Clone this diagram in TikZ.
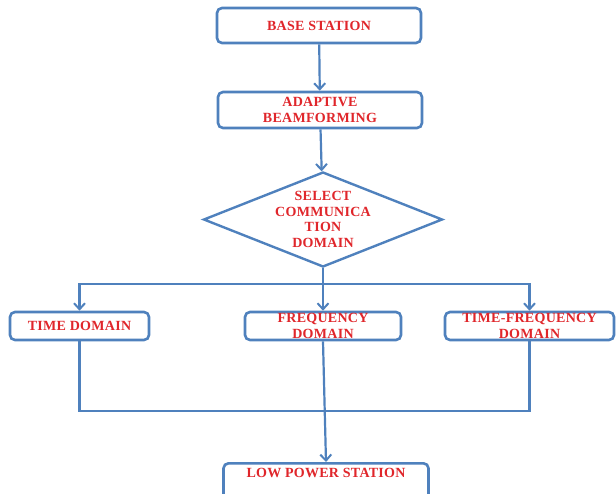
\documentclass[tikz,border=0pt]{standalone}
\usepackage{fontspec}
\setmainfont{Liberation Serif}[LetterSpace=2]
\usetikzlibrary{arrows.meta, positioning, shapes.geometric, calc}
\definecolor{CBlue}{HTML}{4F81BD}
\definecolor{CRed}{HTML}{E0262B}

\tikzset{
    stepbox/.style={draw=CBlue, line width=2.6pt, rounded corners=5pt, fill=white,
        align=center, text=CRed, inner sep=0pt,
        font=\fontsize{14}{16}\selectfont\bfseries},
    decide/.style={diamond, aspect=2.5, draw=CBlue, line width=2.4pt, fill=white,
        align=center, text=CRed, inner sep=0pt,
        font=\fontsize{14}{15.5}\selectfont\bfseries},
    link/.style={CBlue, line width=2.2pt},
    flow/.style={link, -{Straight Barb[length=6pt, width=11pt, line width=2pt]}}
}

\begin{document}
\begin{tikzpicture}[x=1pt, y=-1pt]
    \useasboundingbox (0,0) rectangle (616,493);

    % Top of the chain
    \node[stepbox, minimum width=204pt, minimum height=35pt] (base) at (319,25.5) {BASE STATION};
    \node[stepbox, minimum width=204pt, minimum height=36pt] (beam) at (320,110) {ADAPTIVE\\BEAMFORMING};
    \node[decide, minimum width=239pt, minimum height=95pt] (select) at (323,219.5) {SELECT\\COMMUNICA\\TION\\DOMAIN};

    % Three domains
    \node[stepbox, minimum width=139pt, minimum height=28pt] (timedom) at (79.5,326) {TIME DOMAIN};
    \node[stepbox, minimum width=156pt, minimum height=28pt] (freqdom) at (323,326) {FREQUENCY\\DOMAIN};
    \node[stepbox, minimum width=169pt, minimum height=28pt] (tfdom) at (529.5,326) {TIME-FREQUENCY\\DOMAIN};

    % Receiver
    \node[stepbox, minimum width=205pt, text height=14pt, text depth=22pt, anchor=north] (lowpower) at (326,462) {LOW POWER STATION};

    \coordinate (split) at (323,284);
    \coordinate (merge) at (323,411);

    % Connectors
    \draw[flow] (base) -- (beam);
    \draw[flow] (beam) -- (select);
    \draw[link] (select.south) -- (split);
    \draw[flow] (split) -| (timedom.north);
    \draw[flow] (split) -- (freqdom.north);
    \draw[flow] (split) -| (tfdom.north);
    \draw[link] (timedom.south) |- (merge) -| (tfdom.south);
    \draw[flow] (freqdom.south) -- (lowpower.north);
\end{tikzpicture}
\end{document}
